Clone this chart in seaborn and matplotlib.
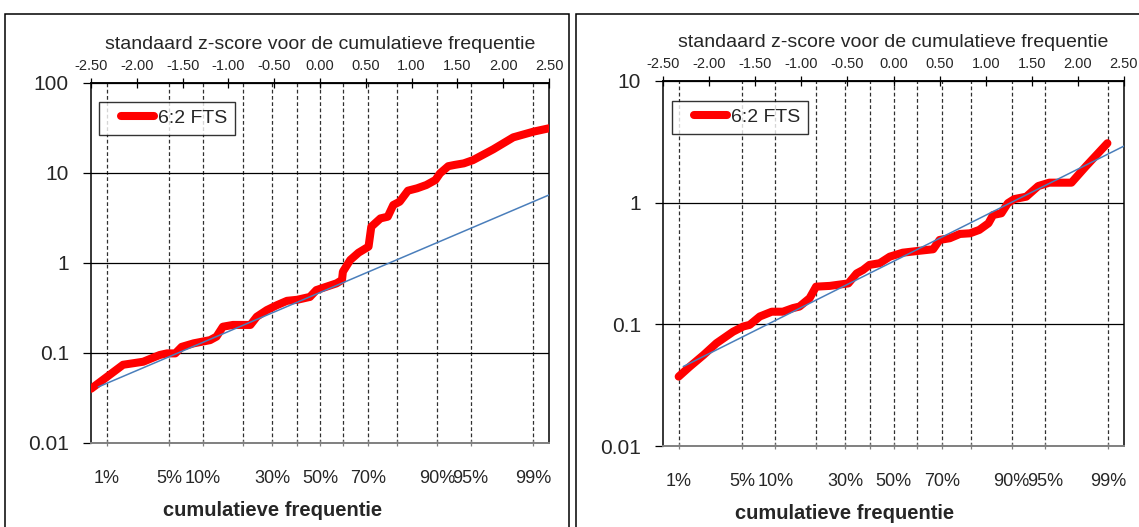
import matplotlib
matplotlib.use("Agg")
import matplotlib.pyplot as plt
import numpy as np
import pandas as pd
import seaborn as sns
from matplotlib.lines import Line2D
from matplotlib.patches import Rectangle
from matplotlib.ticker import NullLocator
from matplotlib.legend_handler import HandlerLine2D

sns.set_theme(style="white")
plt.rcParams['font.family'] = ['Liberation Sans', 'DejaVu Sans']

# ---- data ----
# left chart: standard z-score vs value
left_z = [-2.50, -2.15, -1.93, -1.75, -1.67, -1.58, -1.51, -1.38, -1.20, -1.13,
          -1.06, -0.95, -0.76, -0.69, -0.58, -0.47, -0.36, -0.25, -0.11, -0.04,
          0.07, 0.18, 0.24, 0.25, 0.33, 0.42, 0.53, 0.56, 0.66, 0.74,
          0.80, 0.87, 0.96, 1.06, 1.16, 1.26, 1.31, 1.40, 1.47, 1.57,
          1.67, 1.89, 2.11, 2.33, 2.50]
left_val = [0.040, 0.074, 0.080, 0.095, 0.099, 0.099, 0.117, 0.128, 0.139, 0.152,
            0.196, 0.205, 0.205, 0.253, 0.30, 0.34, 0.38, 0.39, 0.42, 0.50,
            0.545, 0.594, 0.647, 0.80, 1.08, 1.30, 1.52, 2.53, 3.13, 3.27,
            4.41, 4.80, 6.36, 6.76, 7.35, 8.36, 9.9, 11.9, 12.3, 12.8,
            13.9, 18.3, 24.9, 28.8, 31.4]
left_fit_z = [-2.42, 2.50]
left_fit_val = [0.042, 5.7]

# right chart
right_z = [-2.33, -2.21, -2.06, -1.92, -1.74, -1.63, -1.56, -1.45, -1.32, -1.20,
           -1.09, -1.02, -0.91, -0.84, -0.69, -0.49, -0.40, -0.33, -0.26, -0.15,
           -0.04, 0.10, 0.25, 0.43, 0.50, 0.61, 0.72, 0.83, 0.93, 1.03,
           1.08, 1.17, 1.24, 1.31, 1.44, 1.57, 1.69, 1.93, 2.09, 2.32]
right_val = [0.0372, 0.0449, 0.056, 0.070, 0.087, 0.096, 0.099, 0.116, 0.127, 0.127,
             0.136, 0.140, 0.164, 0.204, 0.207, 0.217, 0.262, 0.28, 0.308, 0.318,
             0.36, 0.388, 0.40, 0.414, 0.494, 0.51, 0.553, 0.56, 0.597, 0.677,
             0.792, 0.818, 0.99, 1.07, 1.12, 1.37, 1.46, 1.46, 2.0, 3.08]
right_fit_z = [-2.28, 2.50]
right_fit_val = [0.045, 2.92]

series_name = "6:2 FTS"

# cumulative frequency ticks and their z-scores
pct_labels = ["1%", "5%", "10%", "", "30%", "", "50%", "", "70%", "", "90%", "95%", "99%"]
pct_z = [-2.326, -1.645, -1.282, -0.842, -0.524, -0.253, 0.0, 0.253, 0.524, 0.842, 1.282, 1.645, 2.326]
z_ticks = [-2.5, -2.0, -1.5, -1.0, -0.5, 0.0, 0.5, 1.0, 1.5, 2.0, 2.5]

W, H = 1139, 527
fig = plt.figure(figsize=(W / 100, H / 100), dpi=100)


def px_box(x0, y0, x1, y1):
    # pixel box (top-left origin) -> figure fraction rect
    return [x0 / W, 1 - y1 / H, (x1 - x0) / W, (y1 - y0) / H]


def draw_panel(rect, z, val, fit_z, fit_val, ylim, yticks, yticklabels, leg_anchor, xlab_x):
    ax = fig.add_axes(rect)
    ax.set_yscale('log')
    df = pd.DataFrame({'z': z, 'val': val})
    sns.lineplot(data=df, x='z', y='val', ax=ax, color='#ff0000', lw=5.8,
                 sort=False, estimator=None, solid_capstyle='round', zorder=4)
    sns.lineplot(x=fit_z, y=fit_val, ax=ax, color='#4a7ebb', lw=1.1,
                 sort=False, estimator=None, zorder=5)
    ax.set_xlim(-2.5, 2.5)
    ax.set_ylim(*ylim)
    ax.set_yticks(yticks)
    ax.set_yticklabels(yticklabels)
    ax.yaxis.set_minor_locator(NullLocator())
    ax.set_xticks(pct_z)
    ax.set_xticklabels(pct_labels)
    ax.set_axisbelow(True)
    ax.grid(True, axis='y', color='black', lw=0.9, ls='-')
    ax.grid(True, axis='x', color='#303030', lw=0.9, ls=(0, (3, 2)))
    ax.tick_params(axis='y', direction='out', length=6, width=0.9, color='black',
                   labelsize=15, pad=10, left=True)
    ax.tick_params(axis='x', direction='inout', length=5, width=0.9, color='#808080',
                   labelsize=13, pad=17, bottom=True)
    ax.set_xlabel('cumulatieve frequentie', fontsize=14.5, fontweight='bold',
                  labelpad=10, x=xlab_x)
    ax.set_ylabel('')
    for side in ['left', 'right', 'top']:
        ax.spines[side].set_color('black')
        ax.spines[side].set_linewidth(1.1)
    ax.spines['bottom'].set_color('#808080')
    ax.spines['bottom'].set_linewidth(1.4)

    top = ax.twiny()
    top.set_xlim(-2.5, 2.5)
    top.set_xticks(z_ticks)
    top.set_xticklabels([f"{t:.2f}" for t in z_ticks])
    top.tick_params(axis='x', direction='inout', length=7, width=0.9, color='black',
                    labelsize=10.5, pad=4, top=True)
    top.set_xlabel('standaard z-score voor de cumulatieve frequentie', fontsize=14, labelpad=7)
    for side in ['left', 'right', 'bottom']:
        top.spines[side].set_visible(False)
    top.spines['top'].set_color('black')
    top.spines['top'].set_linewidth(1.1)

    handle = Line2D([], [], color='#ff0000', lw=5.8, solid_capstyle='round')
    leg = top.legend([handle], [series_name], loc='upper left', bbox_to_anchor=leg_anchor,
                     frameon=True, fancybox=False, edgecolor='black', fontsize=14,
                     handlelength=2.4, handletextpad=0.2, borderpad=0.4, borderaxespad=0,
                     handler_map={Line2D: HandlerLine2D(xpad=0.7)})
    leg.get_frame().set_linewidth(1.0)
    return ax


draw_panel(px_box(91, 83, 549, 443), left_z, left_val, left_fit_z, left_fit_val,
           (0.01, 100), [0.01, 0.1, 1, 10, 100], ['0.01', '0.1', '1', '10', '100'],
           (0.018, 0.948), 0.397)
draw_panel(px_box(663, 81, 1124, 446), right_z, right_val, right_fit_z, right_fit_val,
           (0.01, 10), [0.01, 0.1, 1, 10], ['0.01', '0.1', '1', '10'],
           (0.020, 0.946), 0.393)

# outer chart frames
fig.add_artist(Rectangle((5 / W, -0.05), 564 / W, 1.05 - 14 / H, transform=fig.transFigure,
                         fill=False, ec='black', lw=1.1))
fig.add_artist(Rectangle((575.5 / W, -0.05), 0.6, 1.05 - 14 / H, transform=fig.transFigure,
                         fill=False, ec='black', lw=1.1))

fig.savefig('out.png', dpi=100)
